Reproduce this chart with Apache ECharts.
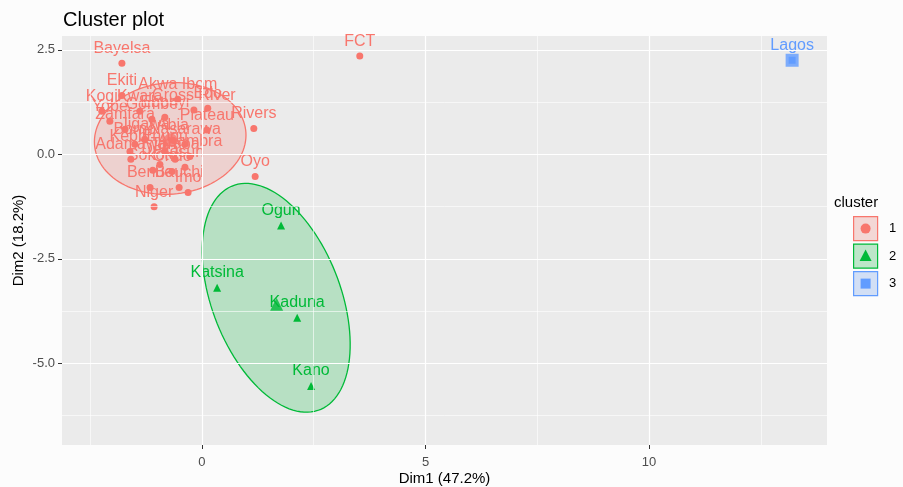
<!DOCTYPE html>
<html>
<head>
<meta charset="utf-8">
<script src="https://cdn.jsdelivr.net/npm/echarts@6/dist/echarts.min.js"></script>
<style>
  html, body { margin: 0; padding: 0; background: #fcfcfc; }
  #chart { width: 903px; height: 487px; }
</style>
</head>
<body>
<div id="chart"></div>
<script>
// cluster 1 (red)
const names1 = ['Bayelsa', 'FCT', 'Ekiti', 'Kogi', 'Akwa Ibom', 'Cross River', 'Yobe', 'Zamfara',
  'Kwara', 'Gombe', 'Ebonyi', 'Edo', 'Benue', 'Plateau', 'Rivers', 'Abia', 'Anambra', 'Kebbi',
  'Adamawa', 'Enugu', 'Delta', 'Taraba', 'Sokoto', 'Ondo', 'Osun', 'Bauchi', 'Imo', 'Niger',
  'Jigawa', 'Nasarawa', 'Borno', 'Oyo'];
const dim1_1 = [-1.79, 3.53, -1.79, -2.24, -0.54, -0.18, -2.06, -1.72,
  -1.39, -1.12, -0.83, 0.13, -1.16, 0.11, 1.16, -0.65, -0.27, -1.61,
  -1.59, -0.83, -0.94, -0.60, -1.10, -0.67, -0.38, -0.51, -0.31, -1.07,
  -1.28, -0.38, -1.50, 1.19];
const dim2_1 = [2.18, 2.35, 1.41, 1.03, 1.32, 1.06, 0.79, 0.60,
  1.03, 0.84, 0.89, 1.10, -0.79, 0.58, 0.62, 0.34, -0.05, 0.07,
  -0.12, 0.07, -0.24, -0.12, -0.38, -0.41, -0.31, -0.79, -0.91, -1.25,
  0.36, 0.24, 0.24, -0.53];

// cluster 2 (green)
const names2 = ['Ogun', 'Katsina', 'Kaduna', 'Kano'];
const dim1_2 = [1.77, 0.34, 2.13, 2.44];
const dim2_2 = [-1.70, -3.19, -3.91, -5.54];

// cluster 3 (blue)
const names3 = ['Lagos'];
const dim1_3 = [13.20];
const dim2_3 = [2.25];

// ellipses: [centre x, centre y, semi-axis a, semi-axis b, angle deg]
const ellipse1 = [-0.71, 0.38, 1.70, 1.33, 7];
const ellipse2 = [1.66, -3.43, 2.85, 1.45, 109];

const xMajor = [0, 5, 10];
const xMinor = [-2.5, 2.5, 7.5, 12.5];
const yMajor = [-5, -2.5, 0, 2.5];
const yMinor = [-6.25, -3.75, -1.25, 1.25];
const yLabels = ['-5.0', '-2.5', '0.0', '2.5'];

const colors = ['#F8766D', '#00BA38', '#619CFF'];
const fills = ['rgba(248,118,109,0.22)', 'rgba(0,186,56,0.22)', 'rgba(97,156,255,0.22)'];
const font = '"Liberation Sans", Arial, sans-serif';

function points(names, xs, ys) {
  return names.map((n, i) => ({ name: n, value: [xs[i], ys[i]] }));
}
function mean(a) { return a.reduce((s, v) => s + v, 0) / a.length; }

function ellipseSeries(e, k) {
  return {
    type: 'custom',
    z: 3,
    silent: true,
    data: [e],
    encode: { x: 0, y: 1 },
    renderItem: function (params, api) {
      const cx = api.value(0), cy = api.value(1), a = api.value(2), b = api.value(3);
      const th = api.value(4) * Math.PI / 180;
      const pts = [];
      for (let i = 0; i < 120; i++) {
        const t = i / 120 * Math.PI * 2;
        const dx = a * Math.cos(t), dy = b * Math.sin(t);
        pts.push(api.coord([cx + dx * Math.cos(th) - dy * Math.sin(th),
                            cy + dx * Math.sin(th) + dy * Math.cos(th)]));
      }
      return {
        type: 'polygon',
        shape: { points: pts },
        style: { fill: fills[k], stroke: colors[k], lineWidth: 1.3 }
      };
    }
  };
}

function pointSeries(names, xs, ys, k, symbol) {
  return {
    type: 'scatter',
    z: 2,
    symbol: symbol,
    symbolSize: symbol === 'triangle' ? 8 : 7,
    itemStyle: { color: colors[k], opacity: 1 },
    data: points(names, xs, ys),
    label: {
      show: true,
      position: 'top',
      distance: 3,
      formatter: p => p.name,
      color: colors[k],
      fontSize: 16,
      fontFamily: font
    },
    emphasis: { disabled: true }
  };
}

function centreSeries(xs, ys, k, symbol) {
  return {
    type: 'scatter',
    z: 4,
    symbol: symbol,
    symbolSize: 13,
    itemStyle: { color: colors[k] },
    data: [[mean(xs), mean(ys)]],
    emphasis: { disabled: true }
  };
}

const gridLines = [].concat(
  xMinor.map(v => ({ xAxis: v, lineStyle: { width: 0.6 } })),
  yMinor.map(v => ({ yAxis: v, lineStyle: { width: 0.6 } })),
  xMajor.map(v => ({ xAxis: v, lineStyle: { width: 1.2 } })),
  yMajor.map(v => ({ yAxis: v, lineStyle: { width: 1.2 } }))
);

// legend drawn as graphic
const legendItems = [];
const shapes = [
  { type: 'circle', shape: { cx: 12.5, cy: 12.5, r: 5 } },
  { type: 'polygon', shape: { points: [[12.5, 6], [18.5, 17.5], [6.5, 17.5]] } },
  { type: 'rect', shape: { x: 7.5, y: 7.5, width: 10, height: 10 } }
];
const clusterNames = ['1', '2', '3'];
clusterNames.forEach((c, k) => {
  legendItems.push({
    type: 'group', left: 853, top: 216 + k * 27.5,
    children: [
      { type: 'rect', shape: { x: 0, y: 0, width: 25, height: 25 },
        style: { fill: '#f2f2f2', stroke: null } },
      { type: 'rect', shape: { x: 0.5, y: 0.5, width: 24, height: 24 },
        style: { fill: fills[k], stroke: colors[k], lineWidth: 1.2 } },
      Object.assign({}, shapes[k], { style: { fill: colors[k] } }),
      { type: 'text', x: 36, y: 12.5,
        style: { text: c, fontSize: 13, fontFamily: font, fill: '#000', verticalAlign: 'middle' } }
    ]
  });
});
legendItems.push({ type: 'text', left: 834, top: 195,
  style: { text: 'cluster', fontSize: 15, fontFamily: font, fill: '#000' } });

const chart = echarts.init(document.getElementById('chart'), null, { renderer: 'canvas' });
chart.setOption({
  backgroundColor: '#fcfcfc',
  animation: false,
  title: {
    text: 'Cluster plot', left: 63, top: 10, padding: 0,
    textStyle: { fontSize: 20, fontWeight: 'normal', color: '#000', fontFamily: font }
  },
  grid: {
    left: 62, right: 76, top: 36, bottom: 42,
    show: true, backgroundColor: '#EBEBEB', borderWidth: 0,
    outerBoundsMode: 'none'
  },
  xAxis: {
    type: 'value', min: -3.13, max: 13.98,
    axisLine: { show: false, onZero: false },
    axisTick: { show: true, customValues: xMajor, length: 4, lineStyle: { color: '#333' } },
    axisLabel: { customValues: xMajor, margin: 11, fontSize: 13, color: '#4d4d4d', fontFamily: font },
    splitLine: { show: false },
    name: 'Dim1 (47.2%)', nameLocation: 'middle', nameGap: 26, nameMoveOverlap: false,
    nameTextStyle: { fontSize: 15, color: '#000', fontFamily: font }
  },
  yAxis: {
    type: 'value', min: -6.95, max: 2.83,
    axisLine: { show: false, onZero: false },
    axisTick: { show: true, customValues: yMajor, length: 4, lineStyle: { color: '#333' } },
    axisLabel: {
      customValues: yMajor, margin: 7, fontSize: 13, color: '#4d4d4d', fontFamily: font,
      formatter: v => yLabels[yMajor.indexOf(v)] || v.toFixed(1)
    },
    splitLine: { show: false },
    name: 'Dim2 (18.2%)', nameLocation: 'middle', nameGap: 36, nameMoveOverlap: false,
    nameTextStyle: { fontSize: 15, color: '#000', fontFamily: font }
  },
  graphic: legendItems,
  series: [
    {
      type: 'scatter', z: 1, data: [], silent: true,
      markLine: {
        silent: true, symbol: 'none', animation: false,
        label: { show: false },
        lineStyle: { color: '#ffffff', type: 'solid' },
        emphasis: { disabled: true },
        data: gridLines
      }
    },
    pointSeries(names1, dim1_1, dim2_1, 0, 'circle'),
    pointSeries(names2, dim1_2, dim2_2, 1, 'triangle'),
    pointSeries(names3, dim1_3, dim2_3, 2, 'rect'),
    ellipseSeries(ellipse1, 0),
    ellipseSeries(ellipse2, 1),
    centreSeries(dim1_1, dim2_1, 0, 'circle'),
    centreSeries(dim1_2, dim2_2, 1, 'triangle'),
    centreSeries(dim1_3, dim2_3, 2, 'rect')
  ]
});
</script>
</body>
</html>
